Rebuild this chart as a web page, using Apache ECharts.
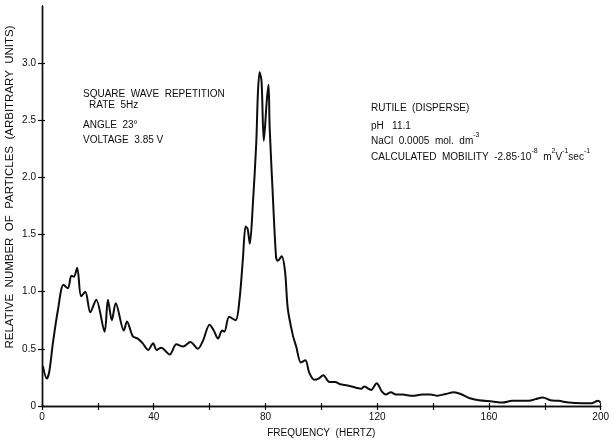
<!DOCTYPE html>
<html><head><meta charset="utf-8">
<script src="https://cdn.jsdelivr.net/npm/echarts@6/dist/echarts.min.js"></script>
<style>html,body{margin:0;padding:0;background:#fff}#c{width:612px;height:444px}</style>
</head><body><div id="c"></div>
<script>
var frequency = [0.3,1.7,2.6,3.9,5.7,7.7,9.3,10.5,11.4,12.6,14.0,15.5,17.3,19.4,22.4,23.6,25.0,26.4,29.3,30.4,32.5,34.3,36.0,38.0,39.8,41.0,42.7,45.7,48.1,50.5,53.1,55.8,57.6,60.0,61.5,63.0,64.5,65.3,67.0,69.3,70.7,71.9,72.9,73.6,74.4,75.5,76.7,77.3,77.9,78.6,79.4,80.5,81.1,81.5,82.6,83.8,84.4,85.8,87.0,88.0,89.8,91.0,92.7,94.3,95.7,97.5,99.0,100.7,102.9,105.0,106.7,109.4,112.4,114.2,115.4,117.8,119.8,121.7,123.1,124.9,126.7,129.0,132.6,136.2,139.2,141.5,144.5,147.5,149.9,152.9,156.4,161.2,164.8,168.3,174.3,176.7,179.3,182.0,185.0,188.6,193.3,196.9,199.0,200.0];
var particles = [0.35,0.24,0.30,0.55,0.84,1.06,1.03,1.14,1.13,1.21,0.96,1.00,0.82,0.93,0.65,0.93,0.75,0.90,0.66,0.74,0.61,0.59,0.55,0.49,0.55,0.49,0.51,0.45,0.54,0.52,0.56,0.50,0.57,0.71,0.66,0.59,0.66,0.65,0.78,0.75,0.93,1.28,1.57,1.55,1.42,1.77,2.30,2.74,2.92,2.84,2.32,2.68,2.81,2.44,1.86,1.30,1.27,1.31,1.18,0.85,0.62,0.52,0.38,0.40,0.29,0.23,0.24,0.27,0.21,0.21,0.19,0.18,0.16,0.15,0.17,0.14,0.20,0.125,0.10,0.12,0.10,0.10,0.09,0.10,0.10,0.09,0.105,0.12,0.105,0.07,0.05,0.04,0.03,0.045,0.045,0.06,0.075,0.05,0.045,0.03,0.025,0.025,0.045,0.03];
var xTickLabels = [0,40,80,120,160,200];
var yTickLabels = [0,0.5,1.0,1.5,2.0,2.5,3.0];
var xTicks = [0,20,40,60,80,100,120,140,160,180,200];
var xTitle = 'FREQUENCY  (HERTZ)';
var yTitle = 'RELATIVE  NUMBER  OF  PARTICLES  (ARBITRARY  UNITS)';
var leftNotes = ['SQUARE  WAVE  REPETITION','RATE  5Hz','ANGLE  23°','VOLTAGE  3.85 V'];
var rightNotes = ['RUTILE  (DISPERSE)','pH   11.1','NaCl  0.0005  mol.  dm{s|-3}','CALCULATED  MOBILITY  -2.85·10{s|-8}  m{s|2}V{s|-1}sec{s|-1}'];

var FONT = '"Liberation Sans", Arial, sans-serif';
var INK = '#0d0d0d';
var pts = frequency.map(function(f,i){return [f, particles[i]];});

function axisBase(extra){
  var o = {min:0, axisLine:{show:true,lineStyle:{color:INK,width:1.4}}, splitLine:{show:false}};
  for (var k in extra) o[k]=extra[k];
  return o;
}
var chart = echarts.init(document.getElementById('c'), null, {renderer:'canvas'});
var rich = {n:{fontFamily:FONT,fontSize:10,color:INK,verticalAlign:'bottom',lineHeight:14},
            s:{fontFamily:FONT,fontSize:7,color:INK,verticalAlign:'top',lineHeight:14}};
function note(x,y,t){
  return {type:'text', left:x, top:y, style:{text:t, fontFamily:FONT, fontSize:10, fill:INK}};
}
function richNote(x,y,t){
  return {type:'text', left:x, top:y, style:{text:'{n|'+t.replace(/\{s\|([^}]*)\}/g,'}{s|$1}{n|')+'}', rich:rich, fill:INK}};
}
chart.setOption({
  animation:false,
  grid:{left:42,right:10,top:6,bottom:38},
  xAxis:[
    axisBase({type:'value',max:200,interval:20,position:'bottom',
      axisTick:{show:true,length:4,lineStyle:{color:INK,width:1.2},customValues:xTicks},
      axisLabel:{color:INK,fontFamily:FONT,fontSize:10,margin:6,customValues:xTickLabels},
      name:xTitle,nameLocation:'middle',nameGap:22,
      nameTextStyle:{color:INK,fontFamily:FONT,fontSize:10}}),
    axisBase({type:'value',max:200,interval:20,position:'bottom',offset:0,
      axisTick:{show:true,inside:true,length:3,lineStyle:{color:INK,width:1.2},customValues:xTicks},
      axisLabel:{show:false}})
  ],
  yAxis:[
    axisBase({type:'value',max:3.5,interval:0.5,position:'left',
      axisTick:{show:true,length:4,lineStyle:{color:INK,width:1.2},customValues:yTickLabels},
      axisLabel:{color:INK,fontFamily:FONT,fontSize:10,margin:6,customValues:yTickLabels,
        formatter:function(v){return v===0?'0':v.toFixed(1);}}}),
    axisBase({type:'value',max:3.5,interval:0.5,position:'left',offset:0,
      axisTick:{show:true,inside:true,length:3,lineStyle:{color:INK,width:1.2},customValues:yTickLabels},
      axisLabel:{show:false}})
  ],
  series:[{type:'line',data:pts,xAxisIndex:0,yAxisIndex:0,smooth:0.3,showSymbol:false,
    lineStyle:{color:INK,width:2}}],
  graphic:[
    {type:'text', x:10, y:187, rotation:Math.PI/2,
      style:{text:yTitle, fontFamily:FONT, fontSize:11.5, fill:INK, align:'center', verticalAlign:'middle'}},
    note(83,89,leftNotes[0]), note(89,100,leftNotes[1]), note(83,120,leftNotes[2]), note(83,135,leftNotes[3]),
    note(371,103,rightNotes[0]), note(371,121,rightNotes[1]), richNote(371,132,rightNotes[2]), richNote(371,148,rightNotes[3])
  ]
});
</script></body></html>
